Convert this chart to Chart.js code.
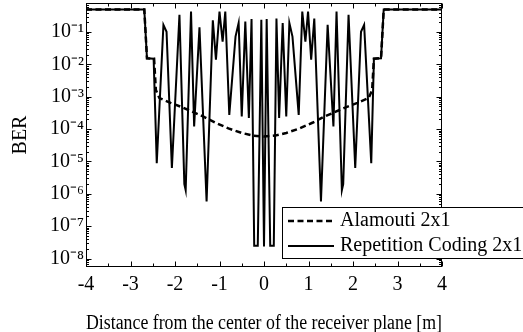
<!DOCTYPE html>
<html><head><meta charset="utf-8">
<script src="https://cdn.jsdelivr.net/npm/chart.js@4/dist/chart.umd.min.js"></script>
<style>html,body{margin:0;padding:0;background:#fff}#wrap{width:523px;height:332px}</style>
</head><body><div id="wrap"><canvas id="c" width="523" height="332"></canvas></div>
<script>
const xTicks = [-4, -3, -2, -1, 0, 1, 2, 3, 4];
const yTickExponents = [-8, -7, -6, -5, -4, -3, -2, -1];
const seriesNames = ['Alamouti 2x1', 'Repetition Coding 2x1'];
const xTitle = 'Distance from the center of the receiver plane [m]';
const yTitle = 'BER';

const alamoutiX = [-4, -2.69, -2.63, -2.47, -2.43, -2.35, -2.1, -1.85, -1.6, -1.35, -1.1, -0.8, -0.5, -0.25, 0,
  0.25, 0.5, 0.8, 1.1, 1.35, 1.6, 1.85, 2.1, 2.35, 2.43, 2.47, 2.63, 2.69, 4];
const alamoutiBER = [0.5, 0.5, 1.55e-2, 1.5e-2, 1.6e-3, 9.1e-4, 6.5e-4, 4.8e-4, 3.4e-4, 2.4e-4, 1.6e-4, 1.05e-4, 7.6e-5, 6.3e-5, 5.9e-5,
  6.3e-5, 7.6e-5, 1.05e-4, 1.6e-4, 2.4e-4, 3.4e-4, 4.8e-4, 6.5e-4, 9.1e-4, 1.6e-3, 1.5e-2, 1.55e-2, 0.5, 0.5];

const repetitionX = [-4, -2.69, -2.63, -2.48, -2.41, -2.26, -2.19, -2.07, -1.90, -1.79, -1.76, -1.64, -1.57, -1.45, -1.29,
  -1.15, -1.08, -1.00, -0.93, -0.87, -0.78, -0.64, -0.57, -0.50, -0.42, -0.34, -0.28, -0.22, -0.14, -0.06, 0.00,
  0.06, 0.14, 0.22, 0.28, 0.34, 0.42, 0.50, 0.57, 0.64, 0.78, 0.86, 0.93, 0.99, 1.06, 1.13, 1.28, 1.43, 1.56,
  1.63, 1.75, 1.78, 1.90, 2.05, 2.18, 2.25, 2.41, 2.47, 2.63, 2.69, 4];
const repetitionBER = [0.5, 0.5, 1.55e-2, 1.5e-2, 8.9e-6, 0.166, 0.102, 6.3e-6, 0.34, 2.0e-6, 1.3e-6, 0.43, 1.2e-4, 0.14, 5.8e-7,
  0.23, 1.4e-2, 0.43, 5.0e-2, 0.43, 2.75e-4, 7.2e-2, 0.19, 2.45e-4, 0.21, 2.2e-4, 0.25, 2.5e-8, 2.5e-8, 0.24, 2.35e-8,
  0.25, 2.5e-8, 2.5e-8, 0.26, 2.2e-4, 0.19, 2.45e-4, 0.19, 7.2e-2, 2.75e-4, 0.43, 5.0e-2, 0.43, 1.4e-2, 0.26, 5.8e-7, 0.166, 1.2e-4,
  0.43, 1.3e-6, 2.0e-6, 0.34, 6.3e-6, 0.102, 0.166, 8.9e-6, 1.5e-2, 1.55e-2, 0.5, 0.5];

const FONT = "'Liberation Serif', 'Times New Roman', serif";
const SUP = {'-': '\u207B', '0': '\u2070', '1': '\u00B9', '2': '\u00B2', '3': '\u00B3', '4': '\u2074', '5': '\u2075', '6': '\u2076', '7': '\u2077', '8': '\u2078', '9': '\u2079'};
const sup = s => String(s).split('').map(c => SUP[c] || c).join('');

const framePlugin = {
  id: 'frame',
  afterDatasetsDraw(chart) {
    const {ctx, chartArea: ca, scales: {x, y}} = chart;
    ctx.save();
    ctx.strokeStyle = '#000';
    ctx.lineWidth = 1;
    const L = Math.round(ca.left) + 0.5, R = Math.round(ca.right) - 0.5;
    const T = Math.round(ca.top) + 0.5, B = Math.round(ca.bottom) - 0.5;
    ctx.beginPath();
    const xt = x.ticks.map(t => t.value);
    xt.forEach((v, i) => {
      const px = Math.round(x.getPixelForValue(v)) + 0.5;
      ctx.moveTo(px, B); ctx.lineTo(px, B - 5);
      ctx.moveTo(px, T); ctx.lineTo(px, T + 5);
      if (i < xt.length - 1) {
        const pm = Math.round(x.getPixelForValue((v + xt[i + 1]) / 2)) + 0.5;
        ctx.moveTo(pm, B); ctx.lineTo(pm, B - 3);
        ctx.moveTo(pm, T); ctx.lineTo(pm, T + 3);
      }
    });
    y.ticks.forEach(t => {
      const py = Math.round(y.getPixelForValue(t.value)) + 0.5;
      ctx.moveTo(L, py); ctx.lineTo(L + 5, py);
      ctx.moveTo(R, py); ctx.lineTo(R - 5, py);
    });
    for (let e = -9; e <= 0; e++) {
      for (let m = 2; m <= 9; m++) {
        const v = m * Math.pow(10, e);
        if (v <= y.min || v >= y.max) continue;
        const py = Math.round(y.getPixelForValue(v)) + 0.5;
        ctx.moveTo(L, py); ctx.lineTo(L + 2.5, py);
        ctx.moveTo(R, py); ctx.lineTo(R - 2.5, py);
      }
    }
    ctx.stroke();
    ctx.strokeRect(L, T, R - L, B - T);
    ctx.restore();
  }
};

const legendPlugin = {
  id: 'boxLegend',
  afterDraw(chart) {
    const ctx = chart.ctx;
    ctx.save();
    const bx = 282.5, by = 207.5, bw = 260, bh = 51;
    ctx.fillStyle = '#fff';
    ctx.fillRect(bx, by, bw, bh);
    ctx.strokeStyle = '#000';
    ctx.lineWidth = 1;
    ctx.strokeRect(bx, by, bw, bh);
    chart.data.datasets.forEach((ds, i) => {
      const yy = 221 + i * 25;
      ctx.beginPath();
      ctx.setLineDash(ds.borderDash || []);
      ctx.lineWidth = ds.borderWidth;
      ctx.strokeStyle = ds.borderColor;
      ctx.moveTo(288, yy); ctx.lineTo(334, yy);
      ctx.stroke();
      ctx.setLineDash([]);
      ctx.fillStyle = '#000';
      ctx.font = '20px ' + FONT;
      ctx.textAlign = 'left';
      ctx.textBaseline = 'middle';
      ctx.fillText(ds.label, 340, yy);
    });
    ctx.restore();
  }
};

new Chart(document.getElementById('c'), {
  type: 'line',
  data: {
    datasets: [
      {
        label: seriesNames[0],
        data: alamoutiX.map((v, i) => ({x: v, y: alamoutiBER[i]})),
        borderColor: '#000', borderWidth: 2.5, borderDash: [6, 3.5],
        pointRadius: 0, tension: 0, fill: false
      },
      {
        label: seriesNames[1],
        data: repetitionX.map((v, i) => ({x: v, y: repetitionBER[i]})),
        borderColor: '#000', borderWidth: 2, borderDash: [],
        pointRadius: 0, tension: 0, fill: false
      }
    ]
  },
  options: {
    responsive: false,
    animation: false,
    devicePixelRatio: 1,
    layout: {padding: {left: 0, top: 3, right: 81, bottom: 0}},
    plugins: {legend: {display: false}, tooltip: {enabled: false}},
    scales: {
      x: {
        type: 'linear', min: xTicks[0], max: xTicks[xTicks.length - 1],
        afterBuildTicks: s => { s.ticks = xTicks.map(v => ({value: v})); },
        afterFit: s => { s.height = 65; s.paddingLeft = 0; s.paddingRight = 0; },
        grid: {display: false, drawTicks: false},
        border: {display: false},
        ticks: {color: '#000', font: {family: FONT, size: 20}, padding: 6, maxRotation: 0, autoSkip: false},
        title: {display: true, text: xTitle, color: '#000', font: {family: FONT, size: 20, lineHeight: 0.8}, padding: {top: 0, bottom: 0}}
      },
      y: {
        type: 'logarithmic', min: 5.5e-9, max: 0.787,
        afterBuildTicks: s => { s.ticks = yTickExponents.map(e => ({value: Math.pow(10, e)})); },
        afterFit: s => { s.width = 86; s.paddingTop = 0; s.paddingBottom = 0; },
        grid: {display: false, drawTicks: false},
        border: {display: false},
        ticks: {color: '#000', font: {family: FONT, size: 20}, padding: 2, autoSkip: false,
          callback: v => '10' + sup(Math.round(Math.log10(v)))},
        title: {display: true, text: yTitle, color: '#000', font: {family: FONT, size: 20, lineHeight: 0.8}, padding: {top: 13, bottom: 0}}
      }
    }
  },
  plugins: [framePlugin, legendPlugin]
});
</script>
</body></html>
